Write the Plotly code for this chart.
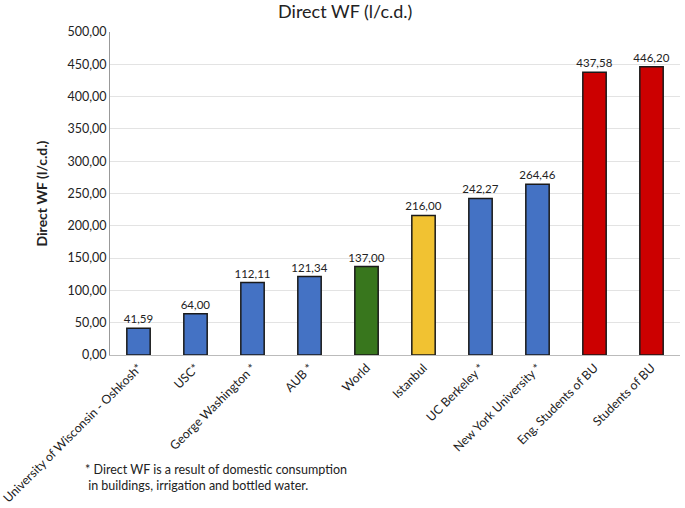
import plotly.graph_objects as go

categories = ["University of Wisconsin - Oshkosh*", "USC*", "George Washington *", "AUB *",
              "World", "Istanbul", "UC Berkeley *", "New York University *",
              "Eng. Students of BU", "Students of BU"]
values = [41.59, 64.00, 112.11, 121.34, 137.00, 216.00, 242.27, 264.46, 437.58, 446.20]
colors = ["#4472C4", "#4472C4", "#4472C4", "#4472C4", "#38761D", "#F1C232",
          "#4472C4", "#4472C4", "#CC0000", "#CC0000"]
y_ticks = [0, 50, 100, 150, 200, 250, 300, 350, 400, 450, 500]

fig = go.Figure(go.Bar(
    x=categories, y=values,
    marker=dict(color=colors, line=dict(color="#1a1a1a", width=1.5)),
    width=0.41,
    texttemplate="%{y:.2f}", textposition="outside", constraintext="none",
    textfont=dict(size=11.5, color="#222"), cliponaxis=False,
))

fig.update_layout(
    width=685, height=508,
    margin=dict(l=110, r=5, t=32, b=153),
    paper_bgcolor="white", plot_bgcolor="white",
    separators=",.",
    font=dict(family="Lato, Open Sans, sans-serif", size=12, color="#222"),
    title=dict(text="Direct WF (l/c.d.)", x=0.504, xanchor="center", y=0.976, yanchor="middle",
               font=dict(size=18, color="#222")),
    showlegend=False,
    annotations=[dict(
        text="* Direct WF is a result of domestic consumption<br> in buildings, irrigation and bottled water.",
        xref="paper", yref="paper", x=-0.047, y=-0.325, xanchor="left", yanchor="top",
        align="left", showarrow=False, font=dict(size=12.5, color="#222"))],
)
fig.update_xaxes(tickangle=-45, showline=True, linecolor="#bbb", linewidth=1,
                 tickfont=dict(size=12.3), ticks="", automargin=False)
fig.update_yaxes(range=[0, 500], tickvals=y_ticks, tickformat=".2f",
                 showline=True, linecolor="#999", linewidth=1,
                 gridcolor="#e3e3e3", gridwidth=1, zeroline=False, automargin=False,
                 title=dict(text="<b>Direct WF (l/c.d.)</b>", font=dict(size=14), standoff=16),
                 tickfont=dict(size=12.5))

fig.write_html("out.html", config={"displayModeBar": False},
               post_script="document.body.style.margin='0';")
